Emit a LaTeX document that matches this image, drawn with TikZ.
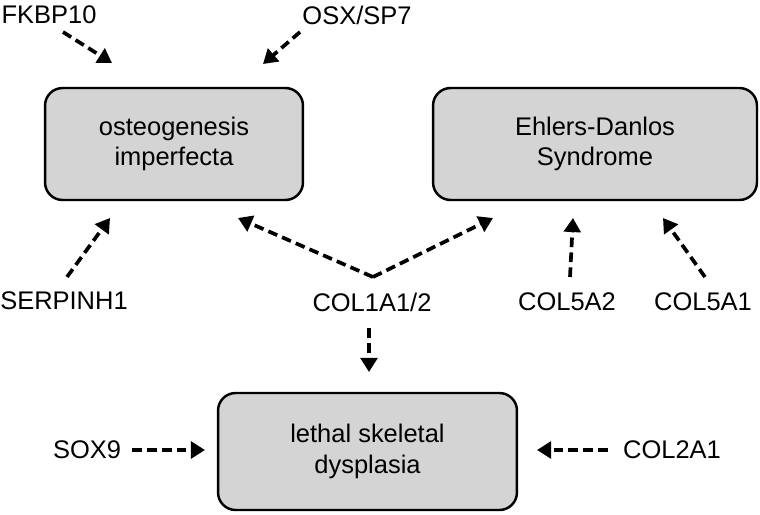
\documentclass[tikz,border=0pt]{standalone}
\usepackage{fontspec}
\setmainfont{Liberation Sans}
\usepackage{tikz}
\usetikzlibrary{positioning,arrows.meta}
\definecolor{boxgray}{RGB}{212,212,212}

\begin{document}
\begin{tikzpicture}[x=0.02cm, y=-0.02cm,
    every node/.style = {align=center, font=\fontsize{14.5}{17.5}\selectfont},
    disease/.style = {draw, line width=1.4pt, rounded corners=10pt, fill=boxgray, minimum height=2.24cm},
    gene/.style = {inner sep=0pt},
    link/.style = {line width=2.1pt, dash pattern=on 5.5pt off 3pt, -{Triangle[length=8pt,width=9.5pt]}}]
    \useasboundingbox (0,0) rectangle (760,514);
    % disorders
    \node[disease, minimum width=5.16cm] (oi) at (174,144) {osteogenesis\\imperfecta};
    \node[disease, minimum width=6.48cm] (eds) at (595,144) {Ehlers-Danlos\\Syndrome};
    \node[disease, minimum width=5.98cm, minimum height=2.34cm] (lsd) at (367.5,451.5) {lethal skeletal\\dysplasia};
    % genes
    \node[gene] (fkbp) at (49,15) {FKBP10};
    \node[gene] (osx) at (357,15) {OSX/SP7};
    \node[gene] (serpinh) at (64,301) {SERPINH1};
    \node[gene] (col1) at (372,302) {COL1A1/2};
    \node[gene] (col5a2) at (567,302) {COL5A2};
    \node[gene] (col5a1) at (703,302) {COL5A1};
    \node[gene] (sox) at (87,450) {SOX9};
    \node[gene] (col2) at (672,450) {COL2A1};
    % arrow ends
    \coordinate (fkbp-out) at (63,32);
    \coordinate (osx-out) at (300,32);
    \coordinate (oi-top1) at (112,63);
    \coordinate (oi-top2) at (263,64);
    \coordinate (serpinh-out) at (67,277);
    \coordinate (oi-low1) at (110,218);
    \coordinate (fork) at (373,277);
    \coordinate (oi-low2) at (238,218);
    \coordinate (eds-low1) at (493,218);
    \coordinate (col5a2-out) at (570,277);
    \coordinate (eds-low2) at (573,218);
    \coordinate (col5a1-out) at (705,277);
    \coordinate (eds-low3) at (663,218);
    \coordinate (col1-out) at (369,328);
    \coordinate (lsd-top) at (369,372);
    \coordinate (sox-out) at (132,450);
    \coordinate (lsd-left) at (205,450);
    \coordinate (col2-out) at (608,450);
    \coordinate (lsd-right) at (537,450);
    % links
    \draw[link] (fkbp-out) -- (oi-top1);
    \draw[link] (osx-out) -- (oi-top2);
    \draw[link] (serpinh-out) -- (oi-low1);
    \draw[link] (fork) -- (oi-low2);
    \draw[link] (fork) -- (eds-low1);
    \draw[link] (col5a2-out) -- (eds-low2);
    \draw[link] (col5a1-out) -- (eds-low3);
    \draw[link] (col1-out) -- (lsd-top);
    \draw[link] (sox-out) -- (lsd-left);
    \draw[link] (col2-out) -- (lsd-right);
\end{tikzpicture}
\end{document}
